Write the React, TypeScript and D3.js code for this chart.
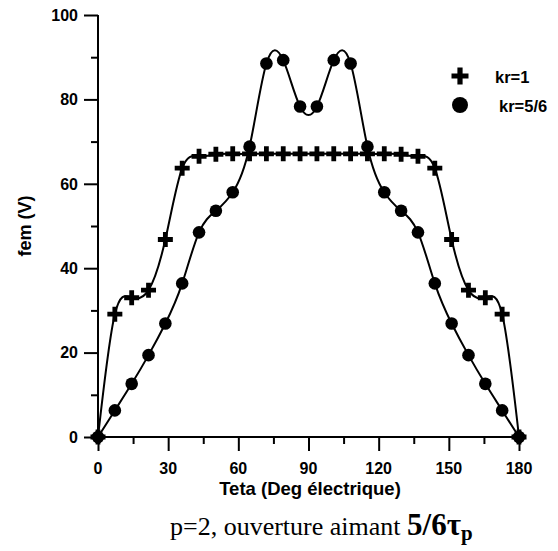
import React, { useEffect, useRef } from 'react'
import * as d3 from 'd3'

// angle (deg electrique), one sample every 7.2 deg
const teta = [0, 7.2, 14.4, 21.6, 28.8, 36, 43.2, 50.4, 57.6, 64.8, 72, 79.2, 86.4,
  93.6, 100.8, 108, 115.2, 122.4, 129.6, 136.8, 144, 151.2, 158.4, 165.6, 172.8, 180]

const femKr1 = [0, 29.1, 33, 34.8, 46.8, 63.7, 66.5, 67, 67.1, 67.1, 67.1, 67.1, 67.1,
  67.1, 67.1, 67.1, 67.1, 67.1, 67, 66.5, 63.7, 46.8, 34.8, 33, 29.1, 0]

const femKr56 = [0, 6.3, 12.6, 19.4, 26.9, 36.4, 48.5, 53.6, 58, 68.8, 88.5, 89.3, 78.3,
  78.3, 89.3, 88.5, 68.8, 58, 53.6, 48.5, 36.4, 26.9, 19.4, 12.6, 6.3, 0]

const xTicks = [0, 30, 60, 90, 120, 150, 180]
const yTicks = [0, 20, 40, 60, 80, 100]
const legendLabels = ['kr=1', 'kr=5/6']

const W = 558
const H = 551

function crossPath(cx: number, cy: number, s: number, t: number) {
  return `M${cx - s},${cy - t}H${cx - t}V${cy - s}H${cx + t}V${cy - t}H${cx + s}V${cy + t}H${cx + t}V${cy + s}H${cx - t}V${cy + t}H${cx - s}Z`
}

export default function App() {
  const ref = useRef<SVGSVGElement>(null)

  useEffect(() => {
    const svg = d3.select(ref.current)
    svg.selectAll('*').remove()

    const x = d3.scaleLinear().domain([0, 180]).range([98, 519])
    const y = d3.scaleLinear().domain([0, 100]).range([437, 15])
    const font = 'Liberation Sans, Arial, sans-serif'

    // y axis
    const yAxis = svg.append('g').attr('transform', `translate(${x(0)},0)`)
    yAxis.call(d3.axisLeft(y).tickValues(d3.range(0, 101, 10)).tickSize(14).tickFormat(() => ''))
    yAxis.selectAll('.tick line').attr('x2', (d: any) => (d % 20 === 0 ? -14 : -7)).attr('stroke-width', 2)
    yAxis.select('.domain').attr('stroke-width', 2).attr('d', `M0,${y(0)}V${y(100)}`)
    yAxis.selectAll('text.lbl')
      .data(yTicks)
      .enter()
      .append('text')
      .attr('class', 'lbl')
      .attr('x', -20)
      .attr('y', d => y(d))
      .attr('dy', '0.36em')
      .attr('text-anchor', 'end')
      .attr('fill', '#000')
      .attr('font-family', font)
      .attr('font-weight', 'bold')
      .attr('font-size', 16)
      .text(d => d)

    // x axis
    const xAxis = svg.append('g').attr('transform', `translate(0,${y(0)})`)
    xAxis.call(d3.axisBottom(x).tickValues(d3.range(0, 181, 15)).tickSize(14).tickFormat(() => ''))
    xAxis.selectAll('.tick line').attr('y2', (d: any) => (d % 30 === 0 ? 14 : 7)).attr('stroke-width', 2)
    xAxis.select('.domain').attr('stroke-width', 2).attr('d', `M${x(0)},0H${x(180)}`)
    xAxis.selectAll('text.lbl')
      .data(xTicks)
      .enter()
      .append('text')
      .attr('class', 'lbl')
      .attr('x', d => x(d))
      .attr('y', 37)
      .attr('text-anchor', 'middle')
      .attr('fill', '#000')
      .attr('font-family', font)
      .attr('font-weight', 'bold')
      .attr('font-size', 16)
      .text(d => d)

    svg.append('text')
      .attr('x', 310)
      .attr('y', 495)
      .attr('text-anchor', 'middle')
      .attr('font-family', font)
      .attr('font-weight', 'bold')
      .attr('font-size', 18.5)
      .text('Teta (Deg électrique)')

    svg.append('text')
      .attr('transform', 'translate(31,226) rotate(-90)')
      .attr('text-anchor', 'middle')
      .attr('font-family', font)
      .attr('font-weight', 'bold')
      .attr('font-size', 18)
      .text('fem (V)')

    // curves
    const line = d3.line<number>()
      .x((d, i) => x(teta[i]))
      .y(d => y(d))
      .curve(d3.curveNatural)

    svg.append('path').attr('d', line(femKr1)).attr('fill', 'none').attr('stroke', '#000').attr('stroke-width', 2)
    svg.append('path').attr('d', line(femKr56)).attr('fill', 'none').attr('stroke', '#000').attr('stroke-width', 2)

    svg.append('g')
      .selectAll('path')
      .data(femKr1)
      .enter()
      .append('path')
      .attr('d', (d, i) => crossPath(x(teta[i]), y(d), 7.5, 2.4))
      .attr('fill', '#000')

    svg.append('g')
      .selectAll('circle')
      .data(femKr56)
      .enter()
      .append('circle')
      .attr('cx', (d, i) => x(teta[i]))
      .attr('cy', d => y(d))
      .attr('r', 6.3)
      .attr('fill', '#000')

    // legend
    const lg = svg.append('g')
    lg.append('path').attr('d', crossPath(460, 76, 8.5, 2.6)).attr('fill', '#000')
    lg.append('circle').attr('cx', 460).attr('cy', 105).attr('r', 8).attr('fill', '#000')
    lg.selectAll('text')
      .data(legendLabels)
      .enter()
      .append('text')
      .attr('x', (d, i) => (i === 0 ? 495 : 499))
      .attr('y', (d, i) => 82.5 + 29 * i)
      .attr('font-family', font)
      .attr('font-weight', 'bold')
      .attr('font-size', 16.5)
      .text(d => d)

    // caption
    const cap = svg.append('text')
      .attr('x', 170)
      .attr('y', 535)
      .attr('font-family', 'Liberation Serif, Times New Roman, serif')
      .attr('font-size', 26)
    cap.append('tspan').text('p=2, ouverture aimant ')
    cap.append('tspan').attr('font-weight', 'bold').attr('font-size', 31).text('5/6τ')
    cap.append('tspan').attr('font-weight', 'bold').attr('font-size', 21).attr('dy', 5).text('p')
  }, [])

  return (
    <svg ref={ref} width={W} height={H} style={{ display: 'block', position: 'absolute', left: 0, top: 0 }} />
  )
}
